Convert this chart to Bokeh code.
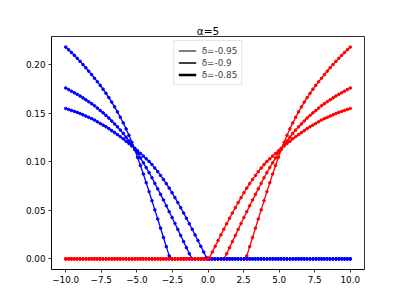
import numpy as np
from bokeh.plotting import figure
from bokeh.models import Range1d, FixedTicker, Legend, LegendItem
from bokeh.embed import file_html
from bokeh.resources import INLINE

# sample grid (100 evenly spaced points from -10 to 10)
x = np.linspace(-10, 10, 100)

deltas = ["δ=-0.95", "δ=-0.9", "δ=-0.85"]
legend_widths = [1.0, 1.7, 2.6]

# blue curves, delta = -0.95, -0.9, -0.85
blue_a = [0.2180, 0.2153, 0.2124, 0.2095, 0.2064, 0.2033, 0.2000, 0.1967, 0.1932, 0.1897,
          0.1860, 0.1824, 0.1786, 0.1746, 0.1704, 0.1660, 0.1614, 0.1565, 0.1513, 0.1458,
          0.1400, 0.1338, 0.1272, 0.1201, 0.1125, 0.1045, 0.0961, 0.0874, 0.0784, 0.0692,
          0.0599, 0.0505, 0.0411, 0.0316, 0.0221, 0.0126, 0.0031, 0.0, 0.0, 0.0,
          0.0, 0.0, 0.0, 0.0, 0.0, 0.0, 0.0, 0.0, 0.0, 0.0,
          0.0, 0.0, 0.0, 0.0, 0.0, 0.0, 0.0, 0.0, 0.0, 0.0,
          0.0, 0.0, 0.0, 0.0, 0.0, 0.0, 0.0, 0.0, 0.0, 0.0,
          0.0, 0.0, 0.0, 0.0, 0.0, 0.0, 0.0, 0.0, 0.0, 0.0,
          0.0, 0.0, 0.0, 0.0, 0.0, 0.0, 0.0, 0.0, 0.0, 0.0,
          0.0, 0.0, 0.0, 0.0, 0.0, 0.0, 0.0, 0.0, 0.0, 0.0]
blue_b = [0.1759, 0.1743, 0.1726, 0.1710, 0.1694, 0.1676, 0.1657, 0.1637, 0.1618, 0.1598,
          0.1577, 0.1552, 0.1527, 0.1503, 0.1477, 0.1450, 0.1419, 0.1389, 0.1359, 0.1326,
          0.1292, 0.1252, 0.1214, 0.1176, 0.1135, 0.1090, 0.1039, 0.0989, 0.0940, 0.0888,
          0.0835, 0.0777, 0.0721, 0.0664, 0.0607, 0.0547, 0.0486, 0.0426, 0.0365, 0.0304,
          0.0241, 0.0179, 0.0116, 0.0054, 0.0, 0.0, 0.0, 0.0, 0.0, 0.0,
          0.0, 0.0, 0.0, 0.0, 0.0, 0.0, 0.0, 0.0, 0.0, 0.0,
          0.0, 0.0, 0.0, 0.0, 0.0, 0.0, 0.0, 0.0, 0.0, 0.0,
          0.0, 0.0, 0.0, 0.0, 0.0, 0.0, 0.0, 0.0, 0.0, 0.0,
          0.0, 0.0, 0.0, 0.0, 0.0, 0.0, 0.0, 0.0, 0.0, 0.0,
          0.0, 0.0, 0.0, 0.0, 0.0, 0.0, 0.0, 0.0, 0.0, 0.0]
blue_c = [0.1548, 0.1538, 0.1528, 0.1518, 0.1508, 0.1496, 0.1483, 0.1470, 0.1457, 0.1444,
          0.1429, 0.1411, 0.1394, 0.1377, 0.1360, 0.1341, 0.1320, 0.1300, 0.1279, 0.1258,
          0.1236, 0.1211, 0.1187, 0.1163, 0.1139, 0.1112, 0.1085, 0.1058, 0.1031, 0.1003,
          0.0971, 0.0935, 0.0898, 0.0859, 0.0818, 0.0775, 0.0729, 0.0681, 0.0631, 0.0580,
          0.0527, 0.0473, 0.0418, 0.0362, 0.0305, 0.0247, 0.0189, 0.0130, 0.0071, 0.0012,
          0.0, 0.0, 0.0, 0.0, 0.0, 0.0, 0.0, 0.0, 0.0, 0.0,
          0.0, 0.0, 0.0, 0.0, 0.0, 0.0, 0.0, 0.0, 0.0, 0.0,
          0.0, 0.0, 0.0, 0.0, 0.0, 0.0, 0.0, 0.0, 0.0, 0.0,
          0.0, 0.0, 0.0, 0.0, 0.0, 0.0, 0.0, 0.0, 0.0, 0.0,
          0.0, 0.0, 0.0, 0.0, 0.0, 0.0, 0.0, 0.0, 0.0, 0.0]

# red curves are the mirror images of the blue ones
red_a = blue_a[::-1]
red_b = blue_b[::-1]
red_c = blue_c[::-1]

blue_series = [blue_a, blue_b, blue_c]
red_series = [red_a, red_b, red_c]

x_ticks = [-10, -7.5, -5, -2.5, 0, 2.5, 5, 7.5, 10]
x_tick_labels = ["\u221210.0", "\u22127.5", "\u22125.0", "\u22122.5", "0.0", "2.5", "5.0", "7.5", "10.0"]
y_ticks = [0.0, 0.05, 0.10, 0.15, 0.20]
y_tick_labels = ["0.00", "0.05", "0.10", "0.15", "0.20"]

FONT = "DejaVu Sans"

all_y = blue_a + blue_b + blue_c
ymin, ymax = min(all_y), max(all_y)
ypad = 0.05 * (ymax - ymin)

p = figure(width=405, height=303, output_backend="svg", toolbar_location=None,
           x_range=Range1d(-11, 11), y_range=Range1d(ymin - ypad, ymax + ypad),
           min_border_left=51, min_border_right=41, min_border_top=36, min_border_bottom=34,
           title="α=5")
p.title.align = "center"
p.title.text_font = FONT
p.title.text_font_size = "10.5px"
p.title.text_font_style = "normal"
p.title.text_color = "black"
p.title.vertical_align = "bottom"
p.title.standoff = 0
p.title.offset = 0

p.xgrid.visible = False
p.ygrid.visible = False
p.outline_line_color = "black"
p.outline_line_width = 0.8
p.background_fill_color = "white"
p.border_fill_color = "white"

for ax, ticks, labels in ((p.xaxis[0], x_ticks, x_tick_labels), (p.yaxis[0], y_ticks, y_tick_labels)):
    ax.ticker = FixedTicker(ticks=ticks)
    ax.major_label_overrides = {t: l for t, l in zip(ticks, labels)}
    ax.minor_tick_line_color = None
    ax.major_tick_out = 3
    ax.major_tick_in = 0
    ax.major_tick_line_color = "black"
    ax.major_tick_line_width = 0.8
    ax.axis_line_color = "black"
    ax.axis_line_width = 0.8
    ax.major_label_text_font = FONT
    ax.major_label_text_font_size = "8.8px"
    ax.major_label_text_color = "black"
    ax.major_label_standoff = 3

for b, r in zip(blue_series, red_series):
    p.line(x, b, line_color="blue", line_width=1.3)
    p.scatter(x, b, size=2.6, color="blue")
    p.line(x, r, line_color="red", line_width=1.3)
    p.scatter(x, r, size=2.6, color="red")

items = []
for lab, w in zip(deltas, legend_widths):
    rr = p.line([np.nan], [np.nan], line_color="black", line_width=w)
    items.append(LegendItem(label=lab, renderers=[rr]))

legend = Legend(items=items, location="top_center", orientation="vertical")
legend.label_text_font = FONT
legend.label_text_font_size = "8.8px"
legend.label_height = 11
legend.glyph_height = 11
legend.glyph_width = 18
legend.label_standoff = 6
legend.spacing = 1
legend.padding = 4
legend.margin = 4
legend.border_line_color = "#cccccc"
legend.border_line_width = 0.8
legend.background_fill_color = "white"
legend.background_fill_alpha = 0.8
p.add_layout(legend, "center")

open("out.html", "w").write(file_html(p, INLINE))
